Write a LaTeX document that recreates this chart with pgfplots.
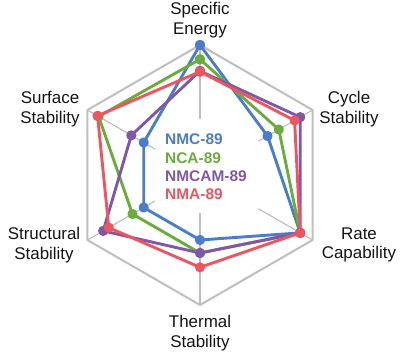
\documentclass[border=0pt]{standalone}
\usepackage{pgfplots}
\pgfplotsset{compat=1.18}
\usepgfplotslibrary{polar}
\usepackage{fontspec}
\setmainfont{Liberation Sans}
\definecolor{cblue}{HTML}{4A7DCC}
\definecolor{cgreen}{HTML}{6AAD3C}
\definecolor{cpurple}{HTML}{8058A8}
\definecolor{cred}{HTML}{EF5560}
\definecolor{cgrid}{HTML}{BFBFBF}
\begin{document}
\begin{tikzpicture}
\path[use as bounding box] (0,0) rectangle (401bp,356bp);
\begin{polaraxis}[
  at={(200bp,181bp)}, anchor=center,
  scale only axis, width=260bp, height=260bp,
  ymin=0, ymax=1,
  xtick=\empty, ytick=\empty,
  axis line style={draw=none},
  clip=false,
]
% outer hexagon
\addplot[cgrid, line width=2bp, line join=round, mark=none] coordinates {(90,1)(30,1)(-30,1)(-90,1)(-150,1)(150,1)(90,1)};
% spokes
\addplot[cgrid, line width=1.2bp, mark=none] coordinates {(90,0.43)(90,1)};
\addplot[cgrid, line width=1.2bp, mark=none] coordinates {(30,0.52)(30,1)};
\addplot[cgrid, line width=1.2bp, mark=none] coordinates {(-30,0.52)(-30,1)};
\addplot[cgrid, line width=1.2bp, mark=none] coordinates {(-90,0.29)(-90,1)};
\addplot[cgrid, line width=1.2bp, mark=none] coordinates {(-150,0.40)(-150,1)};
\addplot[cgrid, line width=1.2bp, mark=none] coordinates {(150,0.40)(150,1)};
% data
\addplot[cblue, line width=2.9bp, line join=round, mark=*, mark size=3.6bp] coordinates {(90,1.0)(30,0.60)(-30,0.89)(-90,0.50)(-150,0.50)(150,0.50)(90,1.0)};
\addplot[cgreen, line width=2.9bp, line join=round, mark=*, mark size=3.6bp] coordinates {(90,0.89)(30,0.70)(-30,0.89)(-90,0.60)(-150,0.60)(150,0.90)(90,0.89)};
\addplot[cpurple, line width=2.9bp, line join=round, mark=*, mark size=3.6bp] coordinates {(90,0.80)(30,0.89)(-30,0.89)(-90,0.60)(-150,0.86)(150,0.61)(90,0.80)};
\addplot[cred, line width=2.9bp, line join=round, mark=*, mark size=3.6bp] coordinates {(90,0.795)(30,0.84)(-30,0.89)(-90,0.71)(-150,0.81)(150,0.91)(90,0.795)};
\end{polaraxis}
\begin{scope}[every node/.style={align=center, font=\fontsize{17}{19.5}\selectfont, text=black!92, inner sep=0pt}]
\node at (200bp,336bp) {Specific\\Energy};
\node at (349bp,247bp) {Cycle\\Stability};
\node at (359bp,111bp) {Rate\\Capability};
\node at (200bp,23bp) {Thermal\\Stability};
\node at (44bp,111bp) {Structural\\Stability};
\node at (50bp,247bp) {Surface\\Stability};
\end{scope}
\begin{scope}[every node/.style={anchor=base west, font=\fontsize{15.5}{18}\selectfont\bfseries, inner sep=0pt}]
\node[text=cblue] at (165bp,211bp) {NMC-89};
\node[text=cgreen] at (165bp,192.7bp) {NCA-89};
\node[text=cpurple] at (165bp,174.3bp) {NMCAM-89};
\node[text=cred] at (165bp,156bp) {NMA-89};
\end{scope}
\end{tikzpicture}
\end{document}
